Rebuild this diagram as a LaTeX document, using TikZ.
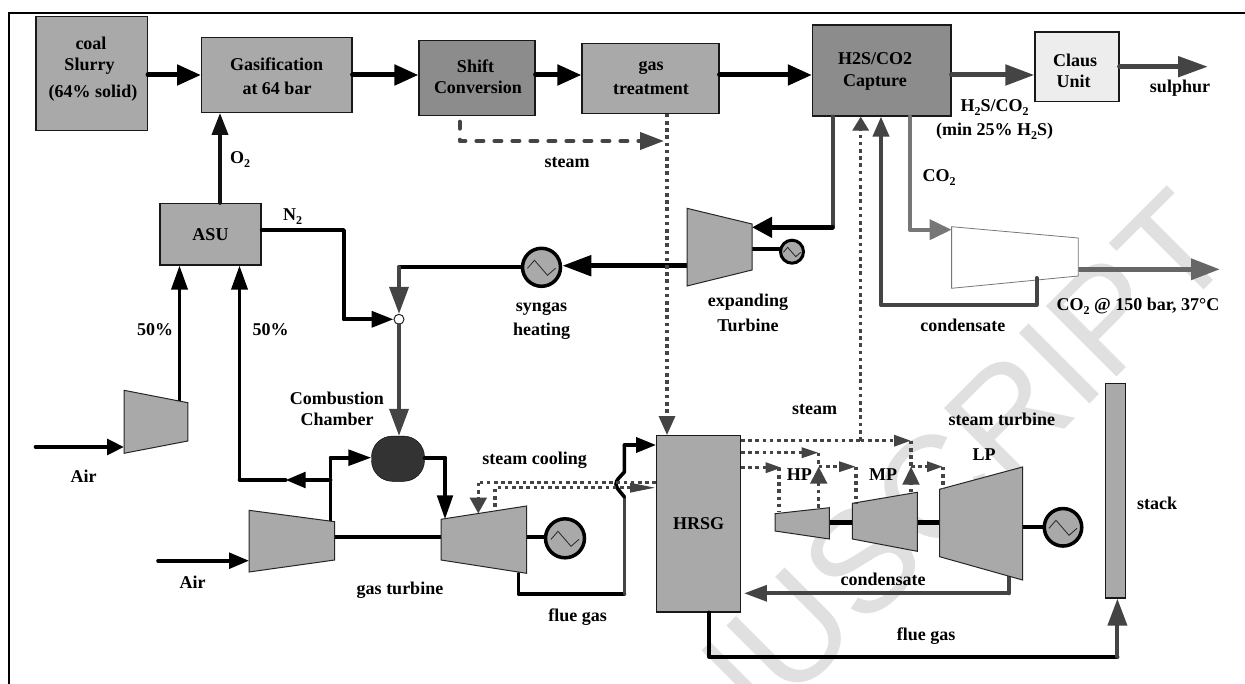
\documentclass[tikz,border=0pt]{standalone}
\usepackage{fontspec}
\setmainfont{Liberation Serif}
\newfontfamily\wmfont{Liberation Sans}
\usetikzlibrary{arrows.meta,calc}
\newcommand{\sbt}[1]{\raisebox{-0.22em}{\fontsize{12}{12}\selectfont #1}}
\definecolor{boxg}{HTML}{A9A9A9}
\definecolor{boxd}{HTML}{8C8C8C}
\definecolor{ink}{HTML}{444444}
\definecolor{inkm}{HTML}{666666}
\definecolor{inkl}{HTML}{777777}
\tikzset{
  unitbox/.style={draw=black!90,line width=1.2pt,fill=boxg,inner sep=0pt,align=center},
  lab/.style={font=\bfseries\fontsize{18}{20}\selectfont,inner sep=0pt,align=center,text=black},
  mach/.style={draw=black!85,line width=1pt,fill=boxg},
  gen/.style={circle,draw=black,line width=3.5pt,fill=boxg,inner sep=0pt},
  flow/.style={line width=#1,line join=round,line cap=round},
  hd/.style 2 args={-{Triangle[length=#1pt,width=#2pt]}},
  stm/.style={color=ink,line width=3.2pt,dash pattern=on 3.6pt off 3.6pt},
  pics/sinew/.style={code={\draw[line width=.8pt,black!85] (-14,1) -- (-7,-7) -- (6,8) -- (14,1);}},
}
\begin{document}
\begin{tikzpicture}[x=1pt,y=-1pt]
\useasboundingbox (0,0) rectangle (1245,684);
\begin{scope}
\clip (0,0) rectangle (1245,684);
\node[rotate=45,anchor=base east,inner sep=0pt,text=black!12] (wm) at (1240,254)
  {\wmfont\fontsize{145}{145}\selectfont NUSCRIPT};
\end{scope}
\coordinate (bl) at (8.5,684); \coordinate (bt) at (8.5,13); \coordinate (br) at (1245,13);
\draw[line width=2pt,black] (bl) -- (bt) -- (br);

% boxes
\node[unitbox,minimum width=111.5pt,minimum height=113.6pt] (coal) at (91.7,73.5) {};
\node[unitbox,minimum width=150.4pt,minimum height=74.6pt] (gasif) at (276.8,75) {};
\node[unitbox,fill=boxd,minimum width=116pt,minimum height=75pt] (shift) at (477,78.2) {};
\node[unitbox,minimum width=137pt,minimum height=69.6pt] (gast) at (650.5,78.5) {};
\node[unitbox,fill=boxd,minimum width=138.5pt,minimum height=91pt] (capt) at (881.7,70.5) {};
\node[unitbox,fill=black!7,minimum width=84pt,minimum height=69.7pt] (claus) at (1077,66.8) {};
\node[unitbox,minimum width=101pt,minimum height=61.3pt] (asu) at (210.5,234.3) {};
\node[unitbox,minimum width=83.7pt,minimum height=176.3pt] (hrsg) at (698.5,523.8) {};
\node[unitbox,minimum width=19.6pt,minimum height=214.7pt] (stack) at (1115.6,490.7) {};
\node[draw=black!85,fill=white,circle,line width=1pt,minimum size=10pt,inner sep=0pt] (mix) at (399,319.3) {};
\node[draw=black,fill=black!80,rounded corners=21pt,minimum width=53pt,minimum height=45.3pt,inner sep=0pt] (cc) at (398,458.7) {};

% machine corners
\coordinate (expN) at (687,208.3); \coordinate (expE) at (752,224); \coordinate (expF) at (752,270); \coordinate (expS) at (687,286);
\coordinate (cpN) at (951.6,226.7); \coordinate (cpE) at (1078.3,238); \coordinate (cpF) at (1078.3,276); \coordinate (cpS) at (951.6,288.3);
\coordinate (c1N) at (124,390.3); \coordinate (c1E) at (187.8,402.7); \coordinate (c1F) at (187.8,441); \coordinate (c1S) at (124,453.3);
\coordinate (c2N) at (249,510.3); \coordinate (c2E) at (334.7,521.7); \coordinate (c2F) at (334.7,560); \coordinate (c2S) at (249,572);
\coordinate (gtN) at (441,519.3); \coordinate (gtE) at (526.5,506); \coordinate (gtF) at (526.5,573.3); \coordinate (gtS) at (441,560);
\coordinate (hpN) at (775,513.7); \coordinate (hpE) at (829.3,507.7); \coordinate (hpF) at (829.3,539); \coordinate (hpS) at (775,531);
\coordinate (mpN) at (852.4,503.3); \coordinate (mpE) at (917.3,492.3); \coordinate (mpF) at (917.3,551.3); \coordinate (mpS) at (852.4,539);
\coordinate (lpN) at (939.6,489.3); \coordinate (lpE) at (1022.5,467); \coordinate (lpF) at (1022.5,580); \coordinate (lpS) at (939.6,556.7);

% generators
\node[gen,minimum size=38pt] (g1) at (541.5,267.3) {};
\node[gen,line width=3pt,minimum size=23pt] (g2) at (792,251.7) {};
\node[gen,minimum size=39pt] (g3) at (565,538.3) {};
\node[gen,minimum size=37.5pt] (g4) at (1063,527.3) {};
\pic at (g1) {sinew};
\pic[scale=.62] at (g2) {sinew};
\pic at (g3) {sinew};
\pic at (g4) {sinew};

% way points
\coordinate (airA) at (35.5,447); \coordinate (airB) at (158,560.7);
\coordinate (n2a) at (344,230); \coordinate (n2b) at (344,319.3);
\coordinate (syn) at (399,267);
\coordinate (cap1) at (832.5,227.3);
\coordinate (co2a) at (910,229.7);
\coordinate (outE) at (1220,269.3); \coordinate (sulph) at (1208,66.7);
\coordinate (cnA) at (1036.5,278); \coordinate (cnB) at (1036.5,304.7); \coordinate (cnC) at (881,304.7);
\coordinate (st0) at (459.7,121.7); \coordinate (st1) at (459.7,141); \coordinate (st2) at (664,141);
\coordinate (brT) at (330.6,457.7); \coordinate (brM) at (330.6,480); \coordinate (brL) at (239.5,480); \coordinate (brH) at (285.7,480);
\coordinate (cc1) at (445,457.7);
\coordinate (fg1) at (518.4,594); \coordinate (fg2) at (624.4,594); \coordinate (fg3) at (624.4,497);
\coordinate (fg4) at (616,484); \coordinate (fg5) at (624.4,472); \coordinate (fg6) at (624.4,445);
\coordinate (cnd1) at (1008.6,593.3);
\coordinate (fb1) at (709.3,656.7); \coordinate (fb2) at (1117.4,656.7);

% solid flows
\draw[flow=5pt,black,hd={24}{20}] (coal.east|-0,75) -- (gasif.west|-0,75);
\draw[flow=5pt,black,hd={24}{20}] (gasif.east|-0,75) -- (shift.west|-0,75);
\draw[flow=5pt,black,hd={24}{20}] (shift.east|-0,75) -- (gast.west|-0,75);
\draw[flow=5pt,black,hd={24}{20}] (gast.east|-0,75) -- (capt.west|-0,75);
\draw[flow=5pt,ink,hd={29}{20}] (capt.east|-0,75) -- (claus.west|-0,75);
\draw[flow=5pt,ink,hd={30}{20}] (claus.east|-sulph) -- (sulph);
\draw[flow=3.6pt,ink!25!black,hd={22}{16}] (asu.north-|220,0) -- (gasif.south-|220,0);
\draw[flow=3.6pt,black] (asu.east|-n2a) -- (n2a) -- (n2b);
\draw[flow=3.6pt,black,hd={22}{16}] (n2b) -- (mix.west);
\draw[flow=3.6pt,black] (g1.west|-syn) -- (syn);
\draw[flow=3.6pt,ink,hd={27}{19}] (syn) -- (mix.north);
\draw[flow=5pt,black,hd={29}{20}] (expN|-0,265.7) -- (g1.east|-0,265.7);
\draw[flow=4pt,ink] (capt.south-|cap1) -- (cap1);
\draw[flow=4.5pt,black,hd={20}{20}] (cap1) -- (expE|-cap1);
\draw[flow=4pt,black] (expE|-0,249.3) -- (g2.west|-0,249.3);
\draw[flow=4pt,inkl] (capt.south-|co2a) -- (co2a);
\draw[flow=4pt,inkl,hd={22}{20}] (co2a) -- (cpN|-co2a);
\draw[flow=5pt,inkm,hd={29}{20.5}] (cpF|-outE) -- (outE);
\draw[flow=4pt,ink] (cnA) -- (cnB) -- (cnC);
\draw[flow=4pt,ink,hd={20}{16}] (cnC) -- (capt.south-|cnC);
\draw[flow=3.6pt,black,hd={17}{15.7}] (airA) -- (c1S|-airA);
\draw[flow=3.6pt,black,hd={24}{16}] (179.5,404) -- (asu.south-|179.5,0);
\draw[flow=3.6pt,black,hd={24}{16}] (brL) -- (asu.south-|brL);
\draw[flow=3.6pt,black,hd={20}{15.7}] (brM) -- (brH);
\draw[flow=3.6pt,black] (brH) -- (brL);
\draw[flow=3.6pt,black] (brT|-c2E) -- (brT);
\draw[flow=3.6pt,black,hd={23}{15.7}] (brT) -- (cc.west|-brT);
\draw[flow=3.6pt,black,hd={20}{15.7}] (airB) -- (c2S|-airB);
\draw[flow=3.6pt,ink,hd={27}{19}] (mix.south) -- (cc.north-|mix);
\draw[flow=3.6pt,black] (cc.east|-cc1) -- (cc1);
\draw[flow=3.6pt,black,hd={24}{15.5}] (cc1) -- (cc1|-gtN);
\draw[flow=4pt,black] (c2E|-0,537) -- (gtN|-0,537);
\draw[flow=4pt,black] (gtE|-0,537) -- (g3.west|-0,537);
\draw[flow=3.6pt,black] (fg1|-gtF) -- (fg1) -- (fg2);
\draw[flow=3.6pt,ink] (fg2) -- (fg3);
\draw[flow=3.6pt,black] (fg3) .. controls (619,490) and (616,488) .. (fg4) .. controls (616,480) and (620,477) .. (fg5) -- (fg6);
\draw[flow=3.6pt,black,hd={20}{15}] (fg6) -- (hrsg.west|-fg6);
\draw[flow=4.5pt,black] (hpE|-0,522.7) -- (mpN|-0,522.7);
\draw[flow=4.5pt,black] (mpE|-0,522.7) -- (lpN|-0,522.7);
\draw[flow=4pt,black] (lpE|-0,527.3) -- (g4.west);
\draw[flow=4pt,ink] (cnd1|-0,574) -- (cnd1);
\draw[flow=4pt,ink,hd={23}{15.7}] (cnd1) -- ($(hrsg.east|-cnd1)+(3,0)$);
\draw[flow=4pt,black] (hrsg.south-|fb1) -- (fb1) -- (fb2);
\draw[flow=4pt,ink,hd={27}{19}] (fb2) -- (stack.south-|fb2);

% machines on top of line ends
\draw[mach] (expN) -- (expE) -- (expF) -- (expS) -- cycle;
\draw[draw=inkl,line width=.8pt,fill=white] (cpN) -- (cpE) -- (cpF) -- (cpS) -- cycle;
\draw[mach] (c1N) -- (c1E) -- (c1F) -- (c1S) -- cycle;
\draw[mach] (c2N) -- (c2E) -- (c2F) -- (c2S) -- cycle;
\draw[mach] (gtN) -- (gtE) -- (gtF) -- (gtS) -- cycle;
\draw[mach] (hpN) -- (hpE) -- (hpF) -- (hpS) -- cycle;
\draw[mach] (mpN) -- (mpE) -- (mpF) -- (mpS) -- cycle;
\draw[mach] (lpN) -- (lpE) -- (lpF) -- (lpS) -- cycle;
\draw[flow=4pt,ink] (cnA) -- (cnA|-0,282);

% steam lines
\draw[flow=4pt,ink,dash pattern=on 7pt off 11pt,hd={24}{17}] (st0) -- (st1) -- (st2);
\coordinate (sA) at (860.7,440.7); \coordinate (sB) at (911,440.7); \coordinate (sC) at (911,466.7);
\coordinate (sD) at (943,466.7); \coordinate (sE) at (818.7,452.7); \coordinate (sF) at (818.7,466.7);
\coordinate (sG) at (856,466.7); \coordinate (sH) at (781.7,467.7); \coordinate (sI) at (478.3,482.7);
\coordinate (sJ) at (495,487.7); \coordinate (sK) at (630,487.7);
\draw[stm,hd={19}{16}] (gast.south-|667,0) -- (hrsg.north-|667,0);
\draw[stm] (hrsg.east|-sA) -- (sA);
\draw[stm,hd={14}{16}] (sA) -- (capt.south-|sA);
\draw[stm,hd={17}{11}] (sA) -- (sB);
\draw[stm] (sB) -- (sC);
\draw[stm,hd={18}{16.7}] (mpE-|sB) -- (sC);
\draw[stm,hd={16}{10}] (sC) -- (sD);
\draw[stm] (sD) -- (lpN-|sD);
\draw[stm,hd={17}{10}] (hrsg.east|-sE) -- (sE);
\draw[stm] (sE) -- (sF);
\draw[stm,hd={17}{16.7}] (hpE-|sF) -- (sF);
\draw[stm,hd={17}{10}] (sF) -- (sG);
\draw[stm] (sG) -- (mpN-|sG);
\draw[stm,hd={16}{10}] (hrsg.east|-sH) -- (sH);
\draw[stm] (779,467.7) -- (779,512);
\draw[stm] (hrsg.west|-sI) -- (sI);
\draw[stm,hd={16}{16.7}] (sI) -- (478.3,513.5);
\draw[stm] (495,506.7) -- (sJ) -- (sK);
\draw[stm,hd={26}{9}] (sK) -- (hrsg.west|-sK);

% labels
\node[lab] (t1) at (91,43) {coal};
\node[lab] (t2) at (89.5,66.7) {Slurry};
\node[lab] (t3) at (93,93) {(64\% solid)};
\node[lab] (t4) at (276.7,64) {Gasification};
\node[lab] (t5) at (277,88) {at 64 bar};
\node[lab] (t6) at (475.5,66) {Shift};
\node[lab] (t7) at (478,87) {Conversion};
\node[lab] (t8) at (651,68) {gas};
\node[lab] (t9) at (651,90) {treatment};
\node[lab] (t10) at (875,59) {H2S/CO2};
\node[lab] (t11) at (875,82) {Capture};
\node[lab] (t12) at (1075,60) {Claus};
\node[lab] (t13) at (1073.6,81) {Unit};
\node[lab] (t14) at (1180,88) {sulphur};
\node[lab] (t15) at (994.6,108) {H\sbt{2}S/CO\sbt{2}};
\node[lab] (t16) at (994.6,131.7) {(min 25\% H\sbt{2}S)};
\node[lab] (t17) at (939,178) {CO\sbt{2}};
\node[lab] (t18) at (240,160) {O\sbt{2}};
\node[lab] (t19) at (292.5,216.7) {N\sbt{2}};
\node[lab] (t20) at (567,162.7) {steam};
\node[lab] (t21) at (541.5,309) {syngas};
\node[lab] (t22) at (541.5,331.7) {heating};
\node[lab] (t23) at (748,302.7) {expanding};
\node[lab] (t24) at (748,325) {Turbine};
\node[lab] (t25) at (962.8,325.7) {condensate};
\node[lab] (t26) at (1138,306) {CO\sbt{2} @ 150 bar, 37°C};
\node[lab] (t27) at (155,330) {50\%};
\node[lab] (t28) at (270.7,330) {50\%};
\node[lab] (t29) at (210.5,234.3) {ASU};
\node[lab] (t30) at (337,398) {Combustion};
\node[lab] (t31) at (337,419) {Chamber};
\node[lab] (t32) at (83.7,476.7) {Air};
\node[lab] (t33) at (192.7,582.7) {Air};
\node[lab] (t34) at (534.7,460.7) {steam cooling};
\node[lab] (t35) at (400,590) {gas turbine};
\node[lab] (t36) at (577.6,616.7) {flue gas};
\node[lab] (t37) at (814.5,409.3) {steam};
\node[lab] (t38) at (1001.8,419.3) {steam turbine};
\node[lab] (t39) at (799.4,475) {HP};
\node[lab] (t40) at (883,475) {MP};
\node[lab] (t41) at (984,454.3) {LP};
\node[lab] (t42) at (698.5,523.3) {HRSG};
\node[lab] (t43) at (1157,503.3) {stack};
\node[lab] (t44) at (883,579.3) {condensate};
\node[lab] (t45) at (926,636) {flue gas};
\end{tikzpicture}
\end{document}
